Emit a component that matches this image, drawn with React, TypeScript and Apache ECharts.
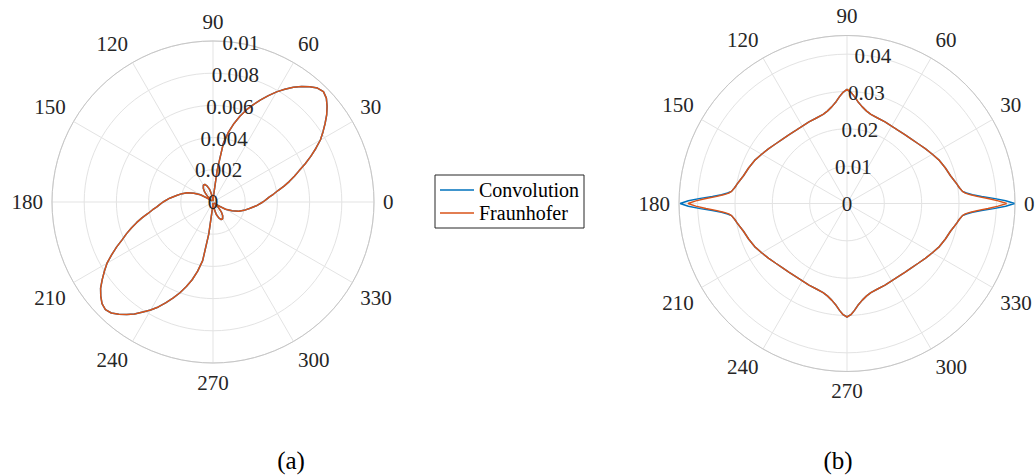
import React, { useEffect, useRef } from 'react';
import * as echarts from 'echarts';

// ---------- data ----------
const SERIES_NAMES = ['Convolution', 'Fraunhofer'];
const SERIES_COLORS = ['#0072BD', '#D95319'];
const CAPTIONS = ['(a)', '(b)'];

// angle ticks (degrees), labelled 0..330
const ANGLE_MIN = 0;
const ANGLE_MAX = 360;
const ANGLE_STEP = 30;

// left panel radius axis
const LEFT_R_MAX = 0.01;
const LEFT_R_STEP = 0.002;
// right panel radius axis
const RIGHT_R_MAX = 0.045;
const RIGHT_R_STEP = 0.01;
const RIGHT_R_LABELS = [0, 0.01, 0.02, 0.03, 0.04];

// (a) angles in degrees
const LEFT_ANGLES = [
  0, 2.5, 5, 7.5, 10, 12.5, 15, 17.5, 20, 22.5, 25, 27.5, 30, 32.5, 35, 37.5, 40, 42.5, 45, 47.5,
  50, 52.5, 55, 57.5, 60, 62.5, 65, 67.5, 70, 72.5, 75, 77.5, 80, 82.5, 85, 87.5, 90,
  95, 100, 105, 110, 115, 120, 125, 130, 135, 140, 145, 150, 155, 160, 165, 170, 175,
  180, 182.5, 185, 187.5, 190, 192.5, 195, 197.5, 200, 202.5, 205, 207.5, 210, 212.5, 215, 217.5, 220, 222.5, 225, 227.5,
  230, 232.5, 235, 237.5, 240, 242.5, 245, 247.5, 250, 252.5, 255, 257.5, 260, 262.5, 265, 267.5, 270,
  275, 280, 285, 290, 295, 300, 305, 310, 315, 320, 325, 330, 335, 340, 345, 350, 355,
  360,
];
const LEFT_CONVOLUTION = [
  0.0031, 0.0033, 0.0035, 0.0038, 0.0041, 0.0045, 0.0049, 0.0053, 0.0057, 0.0062, 0.0067, 0.0072, 0.0077, 0.0081,
  0.0085, 0.0089, 0.00925, 0.00955, 0.0097, 0.0096, 0.00935, 0.00905, 0.0087, 0.0083, 0.0079, 0.00745, 0.007, 0.00655,
  0.0061, 0.0056, 0.00505, 0.00445, 0.0037, 0.002, 0.0004, 0.0001, 0.00005,
  0.00015, 0.00045, 0.0008, 0.00105, 0.0012, 0.0012, 0.00105, 0.0008, 0.00045, 0.0001, 0.0004, 0.0009, 0.0013,
  0.0017, 0.002, 0.0023, 0.0027,
  0.0031, 0.0033, 0.0035, 0.0038, 0.0041, 0.0045, 0.0049, 0.0053, 0.0057, 0.0061, 0.0066, 0.0071, 0.0076, 0.008,
  0.0084, 0.0088, 0.0091, 0.00935, 0.00945, 0.00935, 0.0091, 0.0088, 0.0085, 0.0081, 0.00775, 0.00735, 0.0069, 0.00645,
  0.006, 0.0055, 0.005, 0.0044, 0.0037, 0.002, 0.0004, 0.0001, 0.00005,
  0.00015, 0.00045, 0.0008, 0.00105, 0.0012, 0.0012, 0.00105, 0.0008, 0.00045, 0.0001, 0.0004, 0.0009, 0.0013,
  0.0017, 0.002, 0.0023, 0.0027,
  0.0031,
];
const LEFT_FRAUNHOFER = [
  0.0031, 0.0033, 0.0035, 0.0038, 0.0041, 0.0045, 0.0049, 0.0053, 0.0057, 0.0062, 0.0067, 0.0072, 0.0077, 0.0081,
  0.0085, 0.0089, 0.00925, 0.00955, 0.0097, 0.0096, 0.00935, 0.00905, 0.0087, 0.0083, 0.0079, 0.00745, 0.007, 0.00655,
  0.0061, 0.0056, 0.00505, 0.00445, 0.0037, 0.002, 0.0004, 0.0001, 0.00005,
  0.00015, 0.00045, 0.0008, 0.00105, 0.0012, 0.0012, 0.00105, 0.0008, 0.00045, 0.0001, 0.0004, 0.0009, 0.0013,
  0.0017, 0.002, 0.0023, 0.0027,
  0.0031, 0.0033, 0.0035, 0.0038, 0.0041, 0.0045, 0.0049, 0.0053, 0.0057, 0.0061, 0.0066, 0.0071, 0.0076, 0.008,
  0.0084, 0.0088, 0.0091, 0.00935, 0.00945, 0.00935, 0.0091, 0.0088, 0.0085, 0.0081, 0.00775, 0.00735, 0.0069, 0.00645,
  0.006, 0.0055, 0.005, 0.0044, 0.0037, 0.002, 0.0004, 0.0001, 0.00005,
  0.00015, 0.00045, 0.0008, 0.00105, 0.0012, 0.0012, 0.00105, 0.0008, 0.00045, 0.0001, 0.0004, 0.0009, 0.0013,
  0.0017, 0.002, 0.0023, 0.0027,
  0.0031,
];

// (b) angles in degrees
const RIGHT_ANGLES = [
  0, 1, 2, 3, 4, 5, 6, 8, 10, 12, 15, 20, 25, 30, 35, 40, 45, 50, 55, 60, 65, 70, 75, 78, 81, 84, 86, 88,
  90, 92, 94, 96, 99, 102, 105, 110, 115, 120, 125, 130, 135, 140, 145, 150, 155, 160, 165, 168, 170, 172, 174, 175, 176, 177, 178, 179,
  180, 181, 182, 183, 184, 185, 186, 188, 190, 192, 195, 200, 205, 210, 215, 220, 225, 230, 235, 240, 245, 250, 255, 258, 261, 264, 266, 268,
  270, 272, 274, 276, 279, 282, 285, 290, 295, 300, 305, 310, 315, 320, 325, 330, 335, 340, 345, 348, 350, 352, 354, 355, 356, 357, 358, 359,
  360,
];
const RIGHT_CONVOLUTION = [
  0.0449, 0.0425, 0.0393, 0.0361, 0.0337, 0.0321, 0.0311, 0.0304, 0.0299, 0.0294, 0.0287, 0.028, 0.0273, 0.0264,
  0.0256, 0.0249, 0.0244, 0.0241, 0.0239, 0.0239, 0.0241, 0.0243, 0.0247, 0.0253, 0.0262, 0.0275, 0.0287, 0.0298,
  0.0306, 0.0298, 0.0287, 0.0275, 0.0262, 0.0253, 0.0247, 0.0243, 0.0241, 0.0239, 0.0239, 0.0241, 0.0244, 0.0249,
  0.0256, 0.0264, 0.0273, 0.028, 0.0287, 0.0294, 0.0299, 0.0304, 0.0311, 0.0321, 0.0337, 0.0361, 0.0393, 0.0425,
  0.0447, 0.0425, 0.0393, 0.0361, 0.0337, 0.0321, 0.0311, 0.0304, 0.0299, 0.0294, 0.0287, 0.028, 0.0273, 0.0264,
  0.0256, 0.0249, 0.0244, 0.0241, 0.0239, 0.0239, 0.0241, 0.0243, 0.0247, 0.0253, 0.0262, 0.0275, 0.0287, 0.0298,
  0.0304, 0.0298, 0.0287, 0.0275, 0.0262, 0.0253, 0.0247, 0.0243, 0.0241, 0.0239, 0.0239, 0.0241, 0.0244, 0.0249,
  0.0256, 0.0264, 0.0273, 0.028, 0.0287, 0.0294, 0.0299, 0.0304, 0.0311, 0.0321, 0.0337, 0.0361, 0.0393, 0.0425,
  0.0449,
];
const RIGHT_FRAUNHOFER = [
  0.0428, 0.0405, 0.0378, 0.0352, 0.0332, 0.0318, 0.0311, 0.0304, 0.0299, 0.0294, 0.0287, 0.028, 0.0273, 0.0264,
  0.0256, 0.0249, 0.0244, 0.0241, 0.0239, 0.0239, 0.0241, 0.0243, 0.0247, 0.0253, 0.0262, 0.0275, 0.0287, 0.0298,
  0.0306, 0.0298, 0.0287, 0.0275, 0.0262, 0.0253, 0.0247, 0.0243, 0.0241, 0.0239, 0.0239, 0.0241, 0.0244, 0.0249,
  0.0256, 0.0264, 0.0273, 0.028, 0.0287, 0.0294, 0.0299, 0.0304, 0.0311, 0.0318, 0.0332, 0.0352, 0.0378, 0.0405,
  0.0426, 0.0405, 0.0378, 0.0352, 0.0332, 0.0318, 0.0311, 0.0304, 0.0299, 0.0294, 0.0287, 0.028, 0.0273, 0.0264,
  0.0256, 0.0249, 0.0244, 0.0241, 0.0239, 0.0239, 0.0241, 0.0243, 0.0247, 0.0253, 0.0262, 0.0275, 0.0287, 0.0298,
  0.0304, 0.0298, 0.0287, 0.0275, 0.0262, 0.0253, 0.0247, 0.0243, 0.0241, 0.0239, 0.0239, 0.0241, 0.0244, 0.0249,
  0.0256, 0.0264, 0.0273, 0.028, 0.0287, 0.0294, 0.0299, 0.0304, 0.0311, 0.0318, 0.0332, 0.0352, 0.0378, 0.0405,
  0.0428,
];

// ---------- styling ----------
const FONT = '"Liberation Serif", "Times New Roman", serif';
const TEXT_COLOR = '#262626';
const GRID_COLOR = '#e3e3e3';
const RIM_COLOR = '#c6c6c6';
const LEFT_CENTER = [213, 202];
const LEFT_RADIUS = 161;
const RIGHT_CENTER = [847, 203.5];
const RIGHT_RADIUS = 168;

const pairs = (angles: number[], values: number[]) => angles.map((a, i) => [values[i], a]);

const fmtR = (v: number) => String(parseFloat(v.toFixed(4)));

function mainAngleAxis(polarIndex: number) {
  return {
    polarIndex,
    type: 'value',
    min: ANGLE_MIN,
    max: ANGLE_MAX,
    interval: ANGLE_STEP,
    startAngle: 0,
    clockwise: false,
    axisLine: { show: true, lineStyle: { color: RIM_COLOR, width: 1 } },
    axisTick: { show: false },
    axisLabel: {
      show: true,
      margin: 9,
      fontSize: 21,
      fontFamily: FONT,
      color: TEXT_COLOR,
      formatter: (v: number) => (v >= 360 ? '' : String(v)),
    },
    splitLine: { show: true, lineStyle: { color: GRID_COLOR, width: 1 } },
  };
}

function labelAngleAxis(polarIndex: number) {
  return {
    polarIndex,
    type: 'value',
    min: ANGLE_MIN,
    max: ANGLE_MAX,
    startAngle: 80,
    clockwise: false,
    show: false,
    axisLine: { show: false },
    axisTick: { show: false },
    axisLabel: { show: false },
    splitLine: { show: false },
  };
}

function radiusLabelAxis(polarIndex: number, max: number, step: number, labels: number[] | null) {
  return {
    polarIndex,
    type: 'value',
    min: 0,
    max,
    interval: step,
    z: 5,
    axisLine: { show: false },
    axisTick: { show: false },
    splitLine: { show: false },
    axisLabel: {
      show: true,
      margin: 0,
      align: 'center',
      verticalAlign: 'middle',
      fontSize: 21,
      fontFamily: FONT,
      color: TEXT_COLOR,
      formatter: (v: number) =>
        !labels || labels.some((t) => Math.abs(t - v) < 1e-9) ? fmtR(v) : '',
    },
  };
}

function gridRadiusAxis(polarIndex: number, max: number, step: number) {
  return {
    polarIndex,
    type: 'value',
    min: 0,
    max,
    interval: step,
    axisLine: { show: false },
    axisTick: { show: false },
    axisLabel: { show: false },
    splitLine: { show: true, lineStyle: { color: GRID_COLOR, width: 1 } },
  };
}

function lineSeries(name: number, polarIndex: number, angles: number[], values: number[]) {
  return {
    name: SERIES_NAMES[name],
    type: 'line',
    coordinateSystem: 'polar',
    polarIndex,
    showSymbol: false,
    symbol: 'none',
    color: SERIES_COLORS[name],
    lineStyle: { color: SERIES_COLORS[name], width: 1.5 },
    data: pairs(angles, values),
    z: 3 + name,
  };
}

export default function App() {
  const ref = useRef<HTMLDivElement>(null);

  useEffect(() => {
    if (!ref.current) return;
    const chart = echarts.init(ref.current, undefined, { renderer: 'svg' });

    const option = {
      animation: false,
      backgroundColor: '#ffffff',
      textStyle: { fontFamily: FONT },
      polar: [
        { center: LEFT_CENTER, radius: LEFT_RADIUS },
        { center: RIGHT_CENTER, radius: RIGHT_RADIUS },
        { center: LEFT_CENTER, radius: LEFT_RADIUS },
        { center: RIGHT_CENTER, radius: RIGHT_RADIUS },
      ],
      angleAxis: [mainAngleAxis(0), mainAngleAxis(1), labelAngleAxis(2), labelAngleAxis(3)],
      radiusAxis: [
        gridRadiusAxis(0, LEFT_R_MAX, LEFT_R_STEP),
        gridRadiusAxis(1, RIGHT_R_MAX, RIGHT_R_STEP),
        radiusLabelAxis(2, LEFT_R_MAX, LEFT_R_STEP, null),
        radiusLabelAxis(3, RIGHT_R_MAX, RIGHT_R_STEP, RIGHT_R_LABELS),
      ],
      legend: {
        left: 435,
        top: 175,
        orient: 'vertical',
        padding: [5, 5, 5, 5],
        itemGap: 3,
        itemWidth: 34,
        itemHeight: 1.5,
        icon: 'rect',
        borderColor: '#262626',
        borderWidth: 1,
        backgroundColor: '#ffffff',
        textStyle: { fontSize: 20, fontFamily: FONT, color: '#000000', lineHeight: 20 },
        data: SERIES_NAMES,
      },
      graphic: [
        {
          type: 'text',
          x: 291,
          y: 460,
          style: { text: CAPTIONS[0], font: '25px "Liberation Serif", serif', fill: '#000000', align: 'center', verticalAlign: 'middle' },
        },
        {
          type: 'text',
          x: 838,
          y: 460,
          style: { text: CAPTIONS[1], font: '25px "Liberation Serif", serif', fill: '#000000', align: 'center', verticalAlign: 'middle' },
        },
      ],
      series: [
        lineSeries(0, 0, LEFT_ANGLES, LEFT_CONVOLUTION),
        lineSeries(1, 0, LEFT_ANGLES, LEFT_FRAUNHOFER),
        lineSeries(0, 1, RIGHT_ANGLES, RIGHT_CONVOLUTION),
        lineSeries(1, 1, RIGHT_ANGLES, RIGHT_FRAUNHOFER),
      ],
    };

    chart.setOption(option as any);
    return () => {
      chart.dispose();
    };
  }, []);

  return (
    <div
      ref={ref}
      style={{ position: 'fixed', left: 0, top: 0, width: 1035, height: 475, background: '#ffffff' }}
    />
  );
}
